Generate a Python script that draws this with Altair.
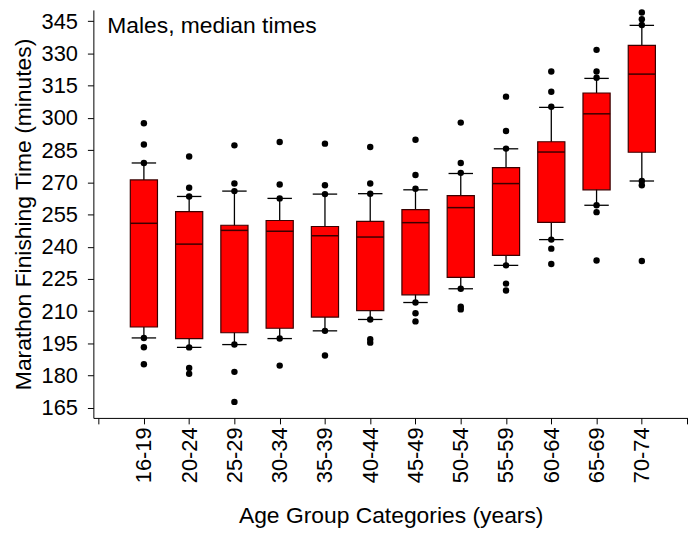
import altair as alt
import pandas as pd

cats = ["16-19", "20-24", "25-29", "30-34", "35-39", "40-44",
        "45-49", "50-54", "55-59", "60-64", "65-69", "70-74"]
q1 = [202.6, 197.2, 199.9, 202.0, 207.2, 210.2, 217.6, 225.7, 236.0, 251.3, 266.5, 284.0]
med = [250.9, 241.2, 247.6, 247.2, 245.1, 244.5, 251.2, 258.2, 269.4, 284.1, 301.9, 320.4]
q3 = [271.1, 256.3, 250.0, 252.2, 249.4, 251.8, 257.3, 263.8, 276.8, 288.9, 311.6, 333.8]
wlo = [197.5, 193.1, 194.4, 197.2, 200.8, 206.1, 214.0, 220.4, 231.3, 243.3, 259.3, 270.6]
whi = [279.0, 263.4, 265.9, 262.5, 264.5, 264.7, 266.5, 274.1, 285.6, 304.9, 318.4, 343.1]
outliers = [
    [297.5, 287.6, 279.0, 197.5, 193.2, 185.2],
    [282.0, 267.5, 263.4, 193.1, 183.5, 180.8],
    [287.2, 269.4, 265.9, 194.4, 181.7, 167.7],
    [288.8, 269.0, 262.5, 197.2, 184.6],
    [288.0, 268.6, 264.5, 200.8, 189.3],
    [286.4, 269.4, 264.7, 206.1, 196.9, 195.3],
    [289.8, 273.4, 267.0, 214.0, 209.0, 205.2],
    [297.8, 279.0, 274.4, 220.4, 212.0, 210.8],
    [309.9, 293.9, 285.7, 231.3, 222.8, 219.6],
    [321.6, 312.2, 305.2, 243.3, 239.1, 231.9],
    [331.7, 321.6, 318.7, 259.3, 256.1, 233.6],
    [349.1, 346.0, 343.3, 270.6, 268.6, 233.3],
]
y_ticks = [165, 180, 195, 210, 225, 240, 255, 270, 285, 300, 315, 330, 345]
annotation = "Males, median times"
x_title = "Age Group Categories (years)"
y_title = "Marathon Finishing Time (minutes)"

idx = list(range(1, len(cats) + 1))
box_df = pd.DataFrame({"idx": idx, "cat": cats, "q1": q1, "med": med,
                       "q3": q3, "wlo": wlo, "whi": whi})
pts_df = pd.DataFrame([{"idx": i + 1, "t": v}
                       for i, vals in enumerate(outliers) for v in vals])

FONT = "Liberation Sans"
xscale = alt.Scale(domain=[-0.116, 13.02], nice=False, zero=False)
yscale = alt.Scale(domain=[160.24, 350.3], nice=False, zero=False)

label_expr = "[" + ",".join("'" + c + "'" for c in [""] + cats + [""]) + "][datum.value]"

xaxis = alt.Axis(values=list(range(0, len(cats) + 2)), labelExpr=label_expr,
                 labelAngle=270, labelPadding=3, tickSize=6, grid=False,
                 titlePadding=22)
yaxis = alt.Axis(values=y_ticks, tickSize=6, labelPadding=10, grid=False,
                 titlePadding=6)


def X(field):
    return alt.X(field, type="quantitative", scale=xscale, axis=xaxis, title=x_title)


def Y(field):
    return alt.Y(field, type="quantitative", scale=yscale, axis=yaxis, title=y_title)


base = alt.Chart(box_df)

whisker = base.mark_rule(color="black", strokeWidth=1.3).encode(
    x=X("idx"), y=Y("wlo"), y2="whi")

caps_lo = base.transform_calculate(xl="datum.idx - 0.27", xr="datum.idx + 0.27").mark_rule(
    color="black", strokeWidth=1.3).encode(x=X("xl"), x2="xr", y=Y("wlo"))
caps_hi = base.transform_calculate(xl="datum.idx - 0.27", xr="datum.idx + 0.27").mark_rule(
    color="black", strokeWidth=1.3).encode(x=X("xl"), x2="xr", y=Y("whi"))

boxes = base.transform_calculate(xl="datum.idx - 0.3", xr="datum.idx + 0.3").mark_rect(
    fill="#ff0000", stroke="#3a0000", strokeWidth=1.2).encode(
    x=X("xl"), x2="xr", y=Y("q1"), y2="q3")

medians = base.transform_calculate(xl="datum.idx - 0.3", xr="datum.idx + 0.3").mark_rule(
    color="#3a0000", strokeWidth=1.5).encode(x=X("xl"), x2="xr", y=Y("med"))

dots = alt.Chart(pts_df).mark_circle(color="black", opacity=1, size=42).encode(
    x=X("idx"), y=Y("t"))

label = alt.Chart(pd.DataFrame({"t": [annotation]})).mark_text(
    align="left", baseline="alphabetic", fontSize=23, font=FONT, color="black").encode(
    x=alt.value(14), y=alt.value(23), text="t")

chart = alt.layer(whisker, caps_lo, caps_hi, boxes, medians, dots, label).properties(
    width=599, height=411,
    autosize=alt.AutoSizeParams(type="none"),
    padding={"left": 86, "top": 0, "right": 0, "bottom": 114},
).configure_view(stroke=None).configure_axis(
    domainColor="black", tickColor="black", labelColor="black", titleColor="black",
    labelFont=FONT, titleFont=FONT, labelFontSize=22, titleFontSize=23,
    titleFontWeight="normal", domainWidth=1, tickWidth=1,
)

chart.save("out.html", embed_options={"renderer": "svg", "actions": False})
